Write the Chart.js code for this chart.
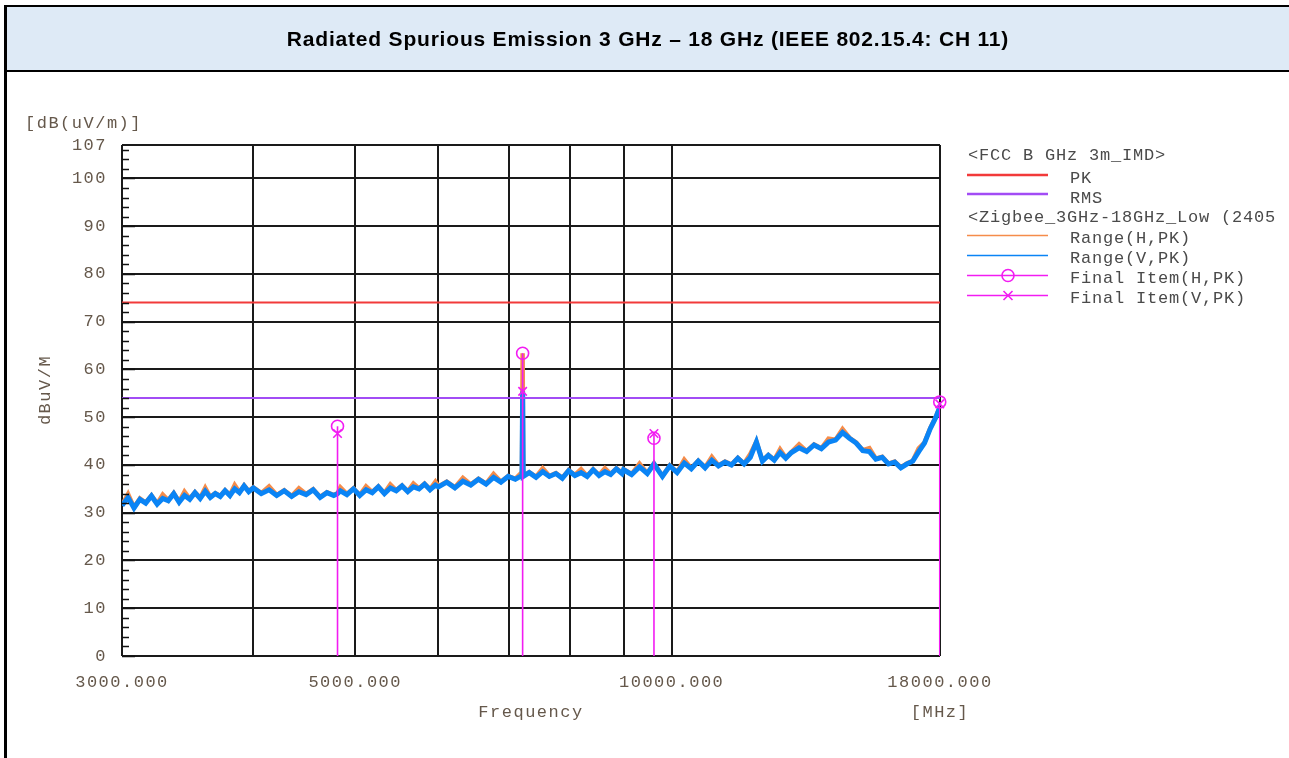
<!DOCTYPE html>
<html><head><meta charset="utf-8">
<script src="https://cdn.jsdelivr.net/npm/chart.js@4/dist/chart.umd.min.js"></script>
<style>
html,body{margin:0;padding:0;background:#fff;width:1289px;height:758px;overflow:hidden}
#c{position:absolute;left:0;top:0}
#tbox{position:absolute;left:4px;top:5px;width:1300px;height:63px;background:#DEEAF6;border-top:2px solid #000;border-bottom:2px solid #000}
#ttext{position:absolute;left:0;top:5px;width:1296px;height:67px;text-align:center;font-family:"Liberation Sans",Arial,sans-serif;font-weight:bold;font-size:21px;letter-spacing:0.8px;line-height:67px;color:#000;white-space:nowrap}
#lborder{position:absolute;left:4px;top:5px;width:3px;height:760px;background:#000}
</style></head>
<body>
<canvas id="c" width="1289" height="758"></canvas>
<div id="tbox"></div>
<div id="ttext">Radiated Spurious Emission 3 GHz – 18 GHz (IEEE 802.15.4: CH 11)</div>
<div id="lborder"></div>
<script>
// ---- data ----
const freqs = [
 3000,3040,3080,3120,3160,3200,3240,3280,3320,3360,3400,3440,3480,3520,3560,3600,3640,3680,3720,3760,3800,3840,3880,3920,3960,
 4000,4070,4140,4210,4280,4350,4420,4490,4560,4630,4700,4770,4810,4840,4910,4980,5050,5120,5190,5260,5330,5400,5470,5540,5610,5680,5750,5820,5890,5960,
 6000,6110,6220,6330,6440,6550,6660,6770,6880,6990,7100,7205,7215,7225,7320,7430,7540,7650,7760,7870,7980,8090,8200,8310,8420,8530,8640,8750,8860,8970,
 9000,9160,9320,9480,9620,9800,9960,10120,10280,10440,10600,10760,10920,11080,11240,11400,11560,11720,11880,12040,12200,12360,12520,12680,12840,
 13000,13220,13440,13660,13880,14100,14320,14540,14760,14980,15200,15420,15640,15860,16080,16300,16520,16740,16960,17180,17400,17620,17840,18000
];
const rangeV = [
 31.5,33.2,31.0,32.8,32.0,33.5,31.8,33.0,32.5,34.0,32.2,33.6,32.8,34.2,33.0,34.5,33.2,34.0,33.4,34.6,33.6,35.0,34.2,35.6,34.4,
 35.2,34.0,34.8,33.6,34.6,33.4,34.4,33.8,34.8,33.2,34.2,33.6,34.0,34.6,33.8,35.0,33.6,34.8,34.2,35.4,34.0,35.2,34.6,35.6,34.4,35.4,35.0,36.0,34.8,35.8,
 35.4,36.4,35.2,36.6,35.8,37.0,36.0,37.4,36.4,37.6,37.0,37.8,55.4,37.6,38.4,37.4,38.6,37.6,38.2,37.2,38.8,37.8,38.4,37.6,39.0,37.8,38.6,38.0,39.2,38.2,
 39.0,38.0,39.6,38.2,40.2,37.6,39.8,38.4,40.4,39.2,40.8,39.4,41.0,39.8,40.6,40.0,41.4,40.2,41.6,44.8,40.8,42.0,41.0,42.6,41.4,
 42.6,43.6,42.8,44.2,43.4,44.8,45.2,46.8,45.6,44.6,43.0,42.8,41.2,41.6,40.2,40.6,39.4,40.2,40.8,42.8,44.6,47.6,50.0,52.2
];
const rangeH = [
 31.6,33.9,31.1,33.0,32.1,33.6,31.9,33.8,32.6,34.1,32.3,34.4,32.9,34.3,33.1,35.2,33.3,34.1,33.5,34.7,33.7,35.8,34.3,35.7,34.5,
 35.3,34.1,35.5,33.7,34.7,33.5,35.1,33.9,34.9,33.3,34.3,33.7,34.1,35.3,33.9,35.1,33.7,35.5,34.3,35.5,34.1,35.9,34.7,35.7,34.5,36.1,35.1,36.1,34.9,36.5,
 35.5,36.5,35.3,37.3,35.9,37.1,36.1,38.1,36.5,37.7,37.1,38.5,63.4,37.7,38.5,37.5,39.3,37.7,38.3,37.3,38.9,37.9,39.1,37.7,39.1,37.9,39.3,38.1,39.3,38.3,
 39.1,38.1,40.3,38.3,40.3,37.7,39.9,38.5,41.1,39.3,40.9,39.5,41.7,39.9,40.7,40.1,41.5,40.3,42.3,44.9,40.9,42.1,41.1,43.3,41.5,
 42.7,44.3,42.9,44.3,43.5,45.5,45.3,47.5,45.7,44.7,43.1,43.5,41.3,41.7,40.3,40.7,39.5,40.3,40.9,43.5,44.7,47.7,50.1,52.3
];
const limitFreqs = [3000, 18000];
const limitPK = [74, 74];
const limitRMS = [54, 54];
const finalFreqs = [4810, 7215, 9620, 17990];
const finalH = [48.1, 63.4, 45.6, 53.2];
const finalV = [46.6, 55.4, 46.6, 52.8];
const xTicks = [3000,4000,5000,6000,7000,8000,9000,10000,18000];
const xLabels = ['3000.000','','5000.000','','','','','10000.000','18000.000'];
const yTicks = [0,10,20,30,40,50,60,70,80,90,100,107];

// ---- styles ----
const MONO = '"Liberation Mono","DejaVu Sans Mono",monospace';
const C_TXT = '#65584b';
const C_RED = '#f23a3a', C_PUR = '#a24cf5', C_ORA = '#f58c4a', C_BLU = '#0a84f5', C_MAG = '#f21cf2';

const pts = (xs, ys) => xs.map((x, i) => ({x: x, y: ys[i]}));
const datasets = [];
datasets.push({data: pts(finalFreqs, finalH), showLine: false, pointStyle: 'circle', pointRadius: 6,
  pointBorderColor: C_MAG, pointBackgroundColor: 'rgba(0,0,0,0)', pointBorderWidth: 1.6, clip: false});
datasets.push({data: pts(finalFreqs, finalV), showLine: false, pointStyle: 'crossRot', pointRadius: 6,
  pointBorderColor: C_MAG, pointBorderWidth: 1.6, clip: false});
finalFreqs.forEach((f, i) => {
  datasets.push({data: [{x: f, y: 0}, {x: f, y: Math.max(finalH[i], finalV[i])}], borderColor: C_MAG,
    borderWidth: 1.6, pointRadius: 0});
});
datasets.push({data: pts(limitFreqs, limitPK), borderColor: C_RED, borderWidth: 2, pointRadius: 0});
datasets.push({data: pts(limitFreqs, limitRMS), borderColor: C_PUR, borderWidth: 2, pointRadius: 0});
datasets.push({data: pts(freqs, rangeV), borderColor: C_BLU, borderWidth: 5, pointRadius: 0, tension: 0, borderJoinStyle: 'miter'});
datasets.push({data: pts(freqs, rangeH), borderColor: C_ORA, borderWidth: 4.5, pointRadius: 0, tension: 0, borderJoinStyle: 'miter'});

const extras = {
  id: 'extras',
  beforeDraw(chart) { chart.ctx.letterSpacing = '1.5px'; },
  afterDraw(chart) {
    const ctx = chart.ctx, y = chart.scales.y, a = chart.chartArea;
    ctx.save();
    // minor / major ticks on left axis, inside
    ctx.strokeStyle = '#111'; ctx.lineWidth = 1.5;
    for (let v = 0; v <= 106; v += 2) {
      const py = Math.round(y.getPixelForValue(v)) + 0.5;
      const len = (v % 10 === 0) ? 13 : 7;
      ctx.beginPath(); ctx.moveTo(a.left, py); ctx.lineTo(a.left + len, py); ctx.stroke();
    }
    // axis texts
    ctx.fillStyle = C_TXT;
    ctx.font = '17px ' + MONO;
    ctx.letterSpacing = '1.5px';
    ctx.textBaseline = 'middle';
    ctx.textAlign = 'left';
    ctx.fillText('[dB(uV/m)]', 25, 123);
    ctx.textAlign = 'center';
    ctx.fillText('Frequency', (a.left + a.right) / 2, 712);
    ctx.fillText('[MHz]', a.right, 712);
    ctx.save();
    ctx.translate(45, 390); ctx.rotate(-Math.PI / 2);
    ctx.fillText('dBuV/M', 0, 0);
    ctx.restore();
    // legend
    ctx.beginPath(); ctx.rect(955, 130, 322, 200); ctx.clip();
    ctx.fillStyle = '#4a4a4a';
    ctx.letterSpacing = '0.8px';
    ctx.textAlign = 'left';
    ctx.fillText('<FCC B GHz 3m_IMD>', 968, 155);
    ctx.fillText('PK', 1070, 178);
    ctx.fillText('RMS', 1070, 198);
    ctx.fillText('<Zigbee_3GHz-18GHz_Low (2405MHz)>', 968, 217);
    ctx.fillText('Range(H,PK)', 1070, 238);
    ctx.fillText('Range(V,PK)', 1070, 258);
    ctx.fillText('Final Item(H,PK)', 1070, 278);
    ctx.fillText('Final Item(V,PK)', 1070, 298);
    const seg = (yy, col, w) => { ctx.strokeStyle = col; ctx.lineWidth = w; ctx.beginPath(); ctx.moveTo(967, yy); ctx.lineTo(1048, yy); ctx.stroke(); };
    seg(175, C_RED, 2.5); seg(194, C_PUR, 2.5); seg(235.5, C_ORA, 1.5); seg(255.5, C_BLU, 1.5);
    seg(275.5, C_MAG, 1.5); seg(295.5, C_MAG, 1.5);
    ctx.strokeStyle = C_MAG; ctx.lineWidth = 1.6;
    ctx.beginPath(); ctx.arc(1008, 275.5, 6, 0, Math.PI * 2); ctx.stroke();
    ctx.beginPath(); ctx.moveTo(1003.5, 291); ctx.lineTo(1012.5, 300); ctx.moveTo(1012.5, 291); ctx.lineTo(1003.5, 300); ctx.stroke();
    ctx.restore();
  }
};

new Chart(document.getElementById('c'), {
  type: 'line',
  data: {datasets: datasets},
  options: {
    responsive: false, animation: false, devicePixelRatio: 1,
    layout: {padding: {left: 0, right: 349, top: 145, bottom: 0}},
    plugins: {legend: {display: false}, tooltip: {enabled: false}},
    scales: {
      x: {
        type: 'logarithmic', min: 3000, max: 18000,
        afterFit(s) { s.height = 102; },
        afterBuildTicks(s) { s.ticks = xTicks.map(v => ({value: v})); },
        ticks: {autoSkip: false, maxRotation: 0, minRotation: 0, padding: 16, color: C_TXT,
          font: {family: MONO, size: 17}, callback: (v, i) => xLabels[i]},
        grid: {color: '#1a1a1a', lineWidth: 2, drawTicks: false},
        border: {display: false}
      },
      y: {
        type: 'linear', min: 0, max: 107,
        afterFit(s) { s.width = 122; },
        afterBuildTicks(s) { s.ticks = yTicks.map(v => ({value: v})); },
        ticks: {padding: 15, color: C_TXT, font: {family: MONO, size: 17}, autoSkip: false},
        grid: {color: '#1a1a1a', lineWidth: 2, drawTicks: false},
        border: {display: false}
      }
    }
  },
  plugins: [extras]
});
</script>
</body></html>
